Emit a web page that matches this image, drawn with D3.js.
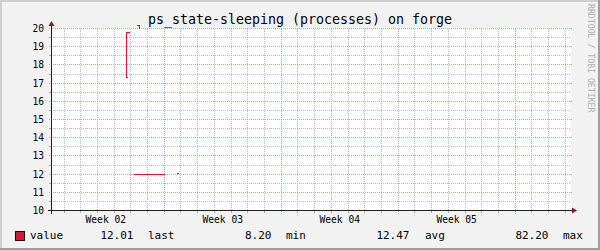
<!DOCTYPE html>
<html><head><meta charset="utf-8">
<script src="https://cdn.jsdelivr.net/npm/d3@7"></script>
<style>html,body{margin:0;padding:0;background:#f2f2f2}svg{display:block}</style>
</head><body>
<svg id="c" width="600" height="250"></svg>
<script>
// ---- data ----
const titleText = "ps_state-sleeping (processes) on forge";
const yTicks = [10, 11, 12, 13, 14, 15, 16, 17, 18, 19, 20];
const weekLabels = ["Week 02", "Week 03", "Week 04", "Week 05"];
const weekStarts = ["2024-01-08", "2024-01-15", "2024-01-22", "2024-01-29", "2024-02-05"];
const timeDomain = ["2024-01-08T05:18", "2024-02-08T08:10"];
// series points (null = gap)
const seriesTimes = [
  "2024-01-12T19:30", "2024-01-12T18:00", "2024-01-12T18:05", "2024-01-12T21:20", null,
  "2024-01-13T03:36", "2024-01-15T01:00", null,
  "2024-01-15T17:45", "2024-01-15T21:05", null,
  "2024-01-13T07:30", "2024-01-13T13:00", "2024-01-13T13:05"
];
const seriesValues = [
  17.31, 17.31, 19.78, 19.78, null,
  12.0, 12.0, null,
  12.03, 12.03, null,
  20.15, 20.15, 20.0
];
const legendName = "value";
const legendStatNames = ["last", "min", "avg", "max"];
const legendStatValues = ["12.01", "8.20", "12.47", "82.20"];
const watermark = "RRDTOOL / TOBI OETIKER";

// ---- drawing ----
const svg = d3.select("#c");
const W = 600, H = 250;
const X0 = 51, X1 = 571, Y0 = 210.5, Y1 = 28.5;
const parse = d3.utcParse("%Y-%m-%dT%H:%M");
const parseDay = d3.utcParse("%Y-%m-%d");
const x = d3.scaleUtc().domain(timeDomain.map(parse)).range([X0, X1]);
const y = d3.scaleLinear().domain([10, 20]).range([Y0, Y1]);
const py = v => Math.round(y(v) - 0.5) + 0.5;
const px = t => Math.round(x(t) - 0.5) + 0.5;

const mono = "'DejaVu Sans Mono', monospace";
const minorCol = "#bdbdbd";

// background + shade border
svg.append("rect").attr("width", W).attr("height", H).attr("fill", "#f2f2f2");
svg.append("path").attr("d", `M0,0H${W}V2H2V${H}H0Z`).attr("fill", "#cfcfcf");
svg.append("path").attr("d", `M${W},0V${H}H0V${H-2}H${W-2}V0Z`).attr("fill", "#9e9e9e");

// canvas
svg.append("rect").attr("x", X0).attr("y", 28).attr("width", X1 - X0).attr("height", 182).attr("fill", "#ffffff");

const grid = svg.append("g").attr("shape-rendering", "crispEdges");

// minor horizontal grid (half units)
const halfTicks = d3.range(10.5, 20, 1);
grid.selectAll(".hmin").data(halfTicks).join("line")
  .attr("x1", X0).attr("x2", X1).attr("y1", d => py(d)).attr("y2", d => py(d))
  .attr("stroke", minorCol).attr("stroke-dasharray", "1,1");
grid.selectAll(".hmint").data(halfTicks).join("line")
  .attr("x1", X0 - 2).attr("x2", X0).attr("y1", d => py(d)).attr("y2", d => py(d))
  .attr("stroke", "#ababab");

// minor vertical grid (days)
const days = d3.utcDay.range(x.domain()[0], x.domain()[1]).filter(d => d.getUTCDay() !== 1);
grid.selectAll(".vmin").data(days).join("line")
  .attr("x1", d => px(d)).attr("x2", d => px(d)).attr("y1", Y1).attr("y2", Y0)
  .attr("stroke", minorCol).attr("stroke-dasharray", "1,1");
grid.selectAll(".vmint").data(days).join("line")
  .attr("x1", d => px(d)).attr("x2", d => px(d)).attr("y1", Y0).attr("y2", Y0 + 2)
  .attr("stroke", "#ababab");

// major horizontal grid
grid.selectAll(".hmaj").data(yTicks).join("line")
  .attr("x1", X0 - 2).attr("x2", X1 + 1).attr("y1", d => py(d)).attr("y2", d => py(d))
  .attr("stroke", "#eb9595").attr("stroke-dasharray", "1,1");

// major vertical grid (weeks)
const weeks = weekStarts.map(parseDay).filter(d => x(d) > X0 && x(d) < X1);
grid.selectAll(".vmaj").data(weeks).join("line")
  .attr("x1", d => px(d)).attr("x2", d => px(d)).attr("y1", Y1).attr("y2", Y0 + 3)
  .attr("stroke", "#eb9595").attr("stroke-dasharray", "1,1");

// series
const pts = seriesTimes.map((t, i) => t === null ? null : [parse(t), seriesValues[i]]);
const line = d3.line().defined(d => d !== null).x(d => px(d[0])).y(d => py(d[1]));
svg.append("path").attr("d", line(pts)).attr("fill", "none")
  .attr("stroke", "#dc143c").attr("stroke-width", 1).attr("shape-rendering", "crispEdges");

// axes
const ax = svg.append("g").attr("shape-rendering", "crispEdges");
ax.append("line").attr("x1", X0 - 3).attr("x2", X1 + 2).attr("y1", Y0).attr("y2", Y0).attr("stroke", "#1f1f1f");
ax.append("line").attr("x1", X0 + 0.5).attr("x2", X0 + 0.5).attr("y1", Y0 + 3).attr("y2", 25).attr("stroke", "#1f1f1f");
svg.append("path").attr("d", `M${X1 + 1},${Y0 - 3}L${X1 + 6},${Y0}L${X1 + 1},${Y0 + 3}Z`).attr("fill", "#801f1f");
svg.append("path").attr("d", `M${X0 - 2.5},26L${X0 + 0.5},21L${X0 + 3.5},26Z`).attr("fill", "#801f1f");

// y labels
svg.selectAll(".yl").data(yTicks).join("text")
  .attr("x", 44).attr("y", d => py(d) + 3.5).attr("text-anchor", "end")
  .attr("font-family", mono).attr("font-size", "9.6px").attr("fill", "#000")
  .text(d => d);

// week labels centered mid-week
const wkStartDates = weekStarts.map(parseDay);
svg.selectAll(".wl").data(weekLabels).join("text")
  .attr("x", (d, i) => (x(wkStartDates[i]) + x(wkStartDates[i + 1])) / 2)
  .attr("y", 223).attr("text-anchor", "middle")
  .attr("font-family", mono).attr("font-size", "9.6px").attr("fill", "#000")
  .text(d => d);

// title
svg.append("text").attr("x", 300).attr("y", 24).attr("text-anchor", "middle")
  .attr("font-family", mono).attr("font-size", "13.3px").attr("fill", "#000").text(titleText);

// watermark
svg.append("text").attr("transform", "translate(588,4) rotate(90)")
  .attr("font-family", mono).attr("font-size", "8.2px").attr("fill", "#b0b0b0").text(watermark);

// legend
svg.append("rect").attr("x", 15.5).attr("y", 231.5).attr("width", 9).attr("height", 9)
  .attr("fill", "#dc143c").attr("stroke", "#000").attr("stroke-width", 1);
const lg = svg.append("g").attr("font-family", mono).attr("font-size", "11px").attr("fill", "#000");
lg.append("text").attr("x", 30).attr("y", 239).text(legendName);
const valEnds = [133.5, 271.5, 409.5, 548.5];
const nameStarts = [148, 286, 425, 563];
legendStatValues.forEach((v, i) => {
  lg.append("text").attr("x", valEnds[i]).attr("y", 239).attr("text-anchor", "end").text(v);
  lg.append("text").attr("x", nameStarts[i]).attr("y", 239).text(legendStatNames[i]);
});
</script>
</body></html>
